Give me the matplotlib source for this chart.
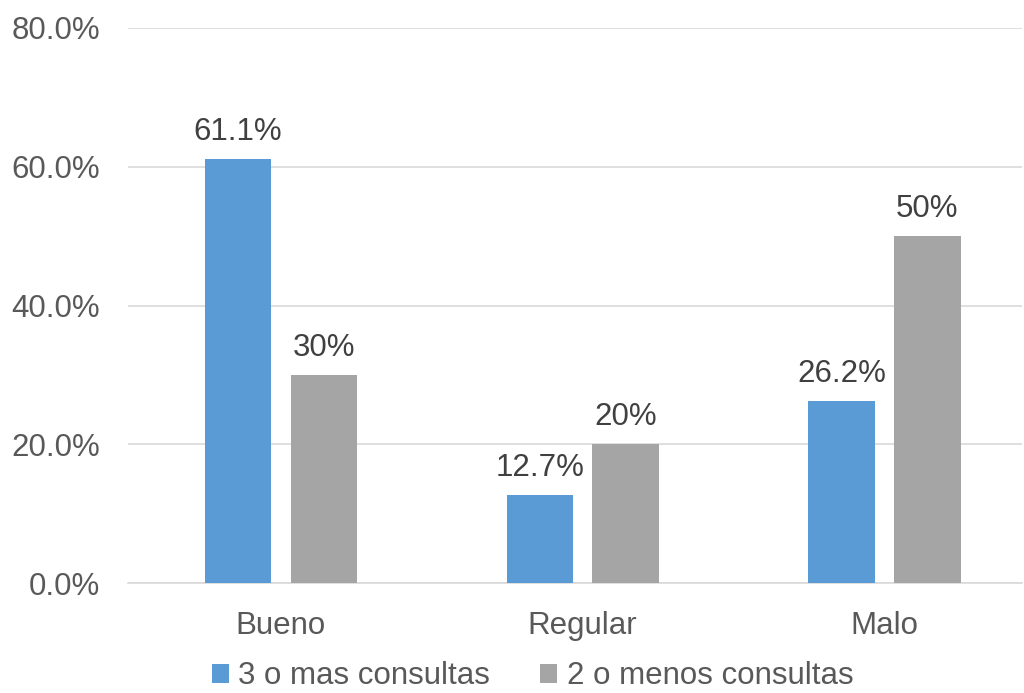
import matplotlib.pyplot as plt
import numpy as np

categories = ["Bueno", "Regular", "Malo"]
mas = [61.1, 12.7, 26.2]
menos = [30, 20, 50]
mas_labels = ["61.1%", "12.7%", "26.2%"]
menos_labels = ["30%", "20%", "50%"]

plt.rcParams["font.family"] = ["Liberation Sans", "DejaVu Sans"]

fig = plt.figure(figsize=(10.24, 6.93), dpi=100)
ax = fig.add_axes([0.125, 0.1587, 0.873, 0.8009])

x = np.arange(len(categories))
w = 0.22
off = 0.142
ax.bar(x - off, mas, w, color="#5B9BD5", label="3 o mas consultas", zorder=3)
ax.bar(x + off, menos, w, color="#A5A5A5", label="2 o menos consultas", zorder=3)

for xi, v, t in zip(x - off, mas, mas_labels):
    ax.text(xi, v + 1.7, t, ha="center", va="bottom", fontsize=22.5, color="#404040")
for xi, v, t in zip(x + off, menos, menos_labels):
    ax.text(xi, v + 1.7, t, ha="center", va="bottom", fontsize=22.5, color="#404040")

ax.set_ylim(0, 80)
ax.set_xlim(-0.5066, 2.4556)
ax.set_yticks([0, 20, 40, 60, 80])
ax.set_yticklabels(["0.0%", "20.0%", "40.0%", "60.0%", "80.0%"])
ax.set_xticks(x)
ax.set_xticklabels(categories)
ax.tick_params(axis="both", length=0, labelsize=22.5, colors="#595959")
ax.tick_params(axis="x", pad=20)
ax.tick_params(axis="y", pad=20)
ax.grid(axis="y", color="#D9D9D9", linewidth=1.2, zorder=0)
for s in ["top", "right", "left"]:
    ax.spines[s].set_visible(False)
ax.spines["bottom"].set_color("#D9D9D9")
ax.spines["bottom"].set_linewidth(1.2)

leg = fig.legend(loc="lower center", bbox_to_anchor=(0.52, -0.038), ncol=2, frameon=False,
                 fontsize=22.5, handlelength=0.55, handleheight=0.55, handletextpad=0.3,
                 columnspacing=1.6)
for t in leg.get_texts():
    t.set_color("#595959")

fig.savefig("out.png", dpi=100)
